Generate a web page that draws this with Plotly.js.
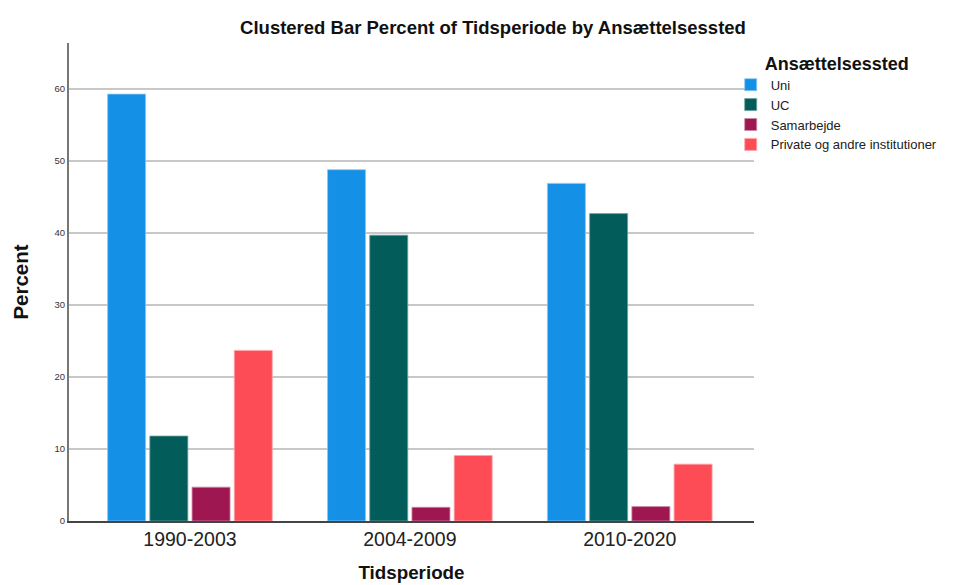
<!DOCTYPE html>
<html>
<head>
<meta charset="utf-8">
<script src="https://cdn.plot.ly/plotly-3.0.1.min.js"></script>
<style>html,body{margin:0;padding:0;background:#fff;}#chart{width:959px;height:585px;}</style>
</head>
<body>
<div id="chart"></div>
<script>
const categories = ["1990-2003", "2004-2009", "2010-2020"];
const seriesNames = ["Uni", "UC", "Samarbejde", "Private og andre institutioner"];
const uni = [59.3, 48.8, 46.9];
const uc = [11.8, 39.7, 42.7];
const samarbejde = [4.7, 1.9, 2.0];
const privateInst = [23.7, 9.1, 7.9];
const yTicks = [0, 10, 20, 30, 40, 50, 60];

const colors = ["#1490e6", "#025c5a", "#9f1750", "#fe4c56"];
const edge = ["#8cc8f2", "#6f9f9e", "#c98aa6", "#fea6aa"];
const values = [uni, uc, samarbejde, privateInst];

const traces = values.map((v, i) => ({
  type: "bar",
  name: seriesNames[i],
  x: categories,
  y: v,
  marker: {color: colors[i], line: {color: edge[i], width: 0.8}},
  hoverinfo: "y+name"
}));

const layout = {
  width: 959, height: 585,
  margin: {l: 69, r: 205, t: 43, b: 64},
  paper_bgcolor: "#fff", plot_bgcolor: "#fff",
  font: {family: "Liberation Sans, Arial, sans-serif", color: "#222"},
  title: {text: "Clustered Bar Percent of Tidsperiode by Ansættelsessted",
          font: {size: 18.5, color: "#111", weight: "bold"},
          x: 493/959, xanchor: "center", y: 1 - 28/585, yanchor: "middle"},
  barmode: "group",
  bargap: 0.232,
  bargroupgap: 0.1,
  xaxis: {
    type: "category",
    range: [-0.55, 2.565],
    showline: true, linecolor: "#444", linewidth: 2,
    ticks: "", showgrid: false,
    tickfont: {size: 19.5, color: "#222"},
    title: {text: "Tidsperiode", font: {size: 18.8, color: "#111", weight: "bold"}, standoff: 16}
  },
  yaxis: {
    range: [0, 66.4],
    tickvals: yTicks,
    ticktext: yTicks.map(String),
    showline: true, linecolor: "#777", linewidth: 2,
    showgrid: true, gridcolor: "#c8c8c8", gridwidth: 2,
    zeroline: false,
    ticks: "",
    tickfont: {size: 9.5, color: "#333"},
    title: {text: "Percent", font: {size: 20.5, color: "#111", weight: "bold"}, standoff: 20}
  },
  legend: {
    x: 0.966, xanchor: "left", y: 0.993, yanchor: "top",
    bgcolor: "rgba(0,0,0,0)",
    font: {size: 13, color: "#222"},
    itemwidth: 30,
    tracegroupgap: 0,
    title: {text: "Ansættelsessted", side: "top center", font: {size: 18, color: "#111", weight: "bold"}}
  },
  showlegend: true
};

Plotly.newPlot("chart", traces, layout, {displayModeBar: false, staticPlot: true});
</script>
</body>
</html>
